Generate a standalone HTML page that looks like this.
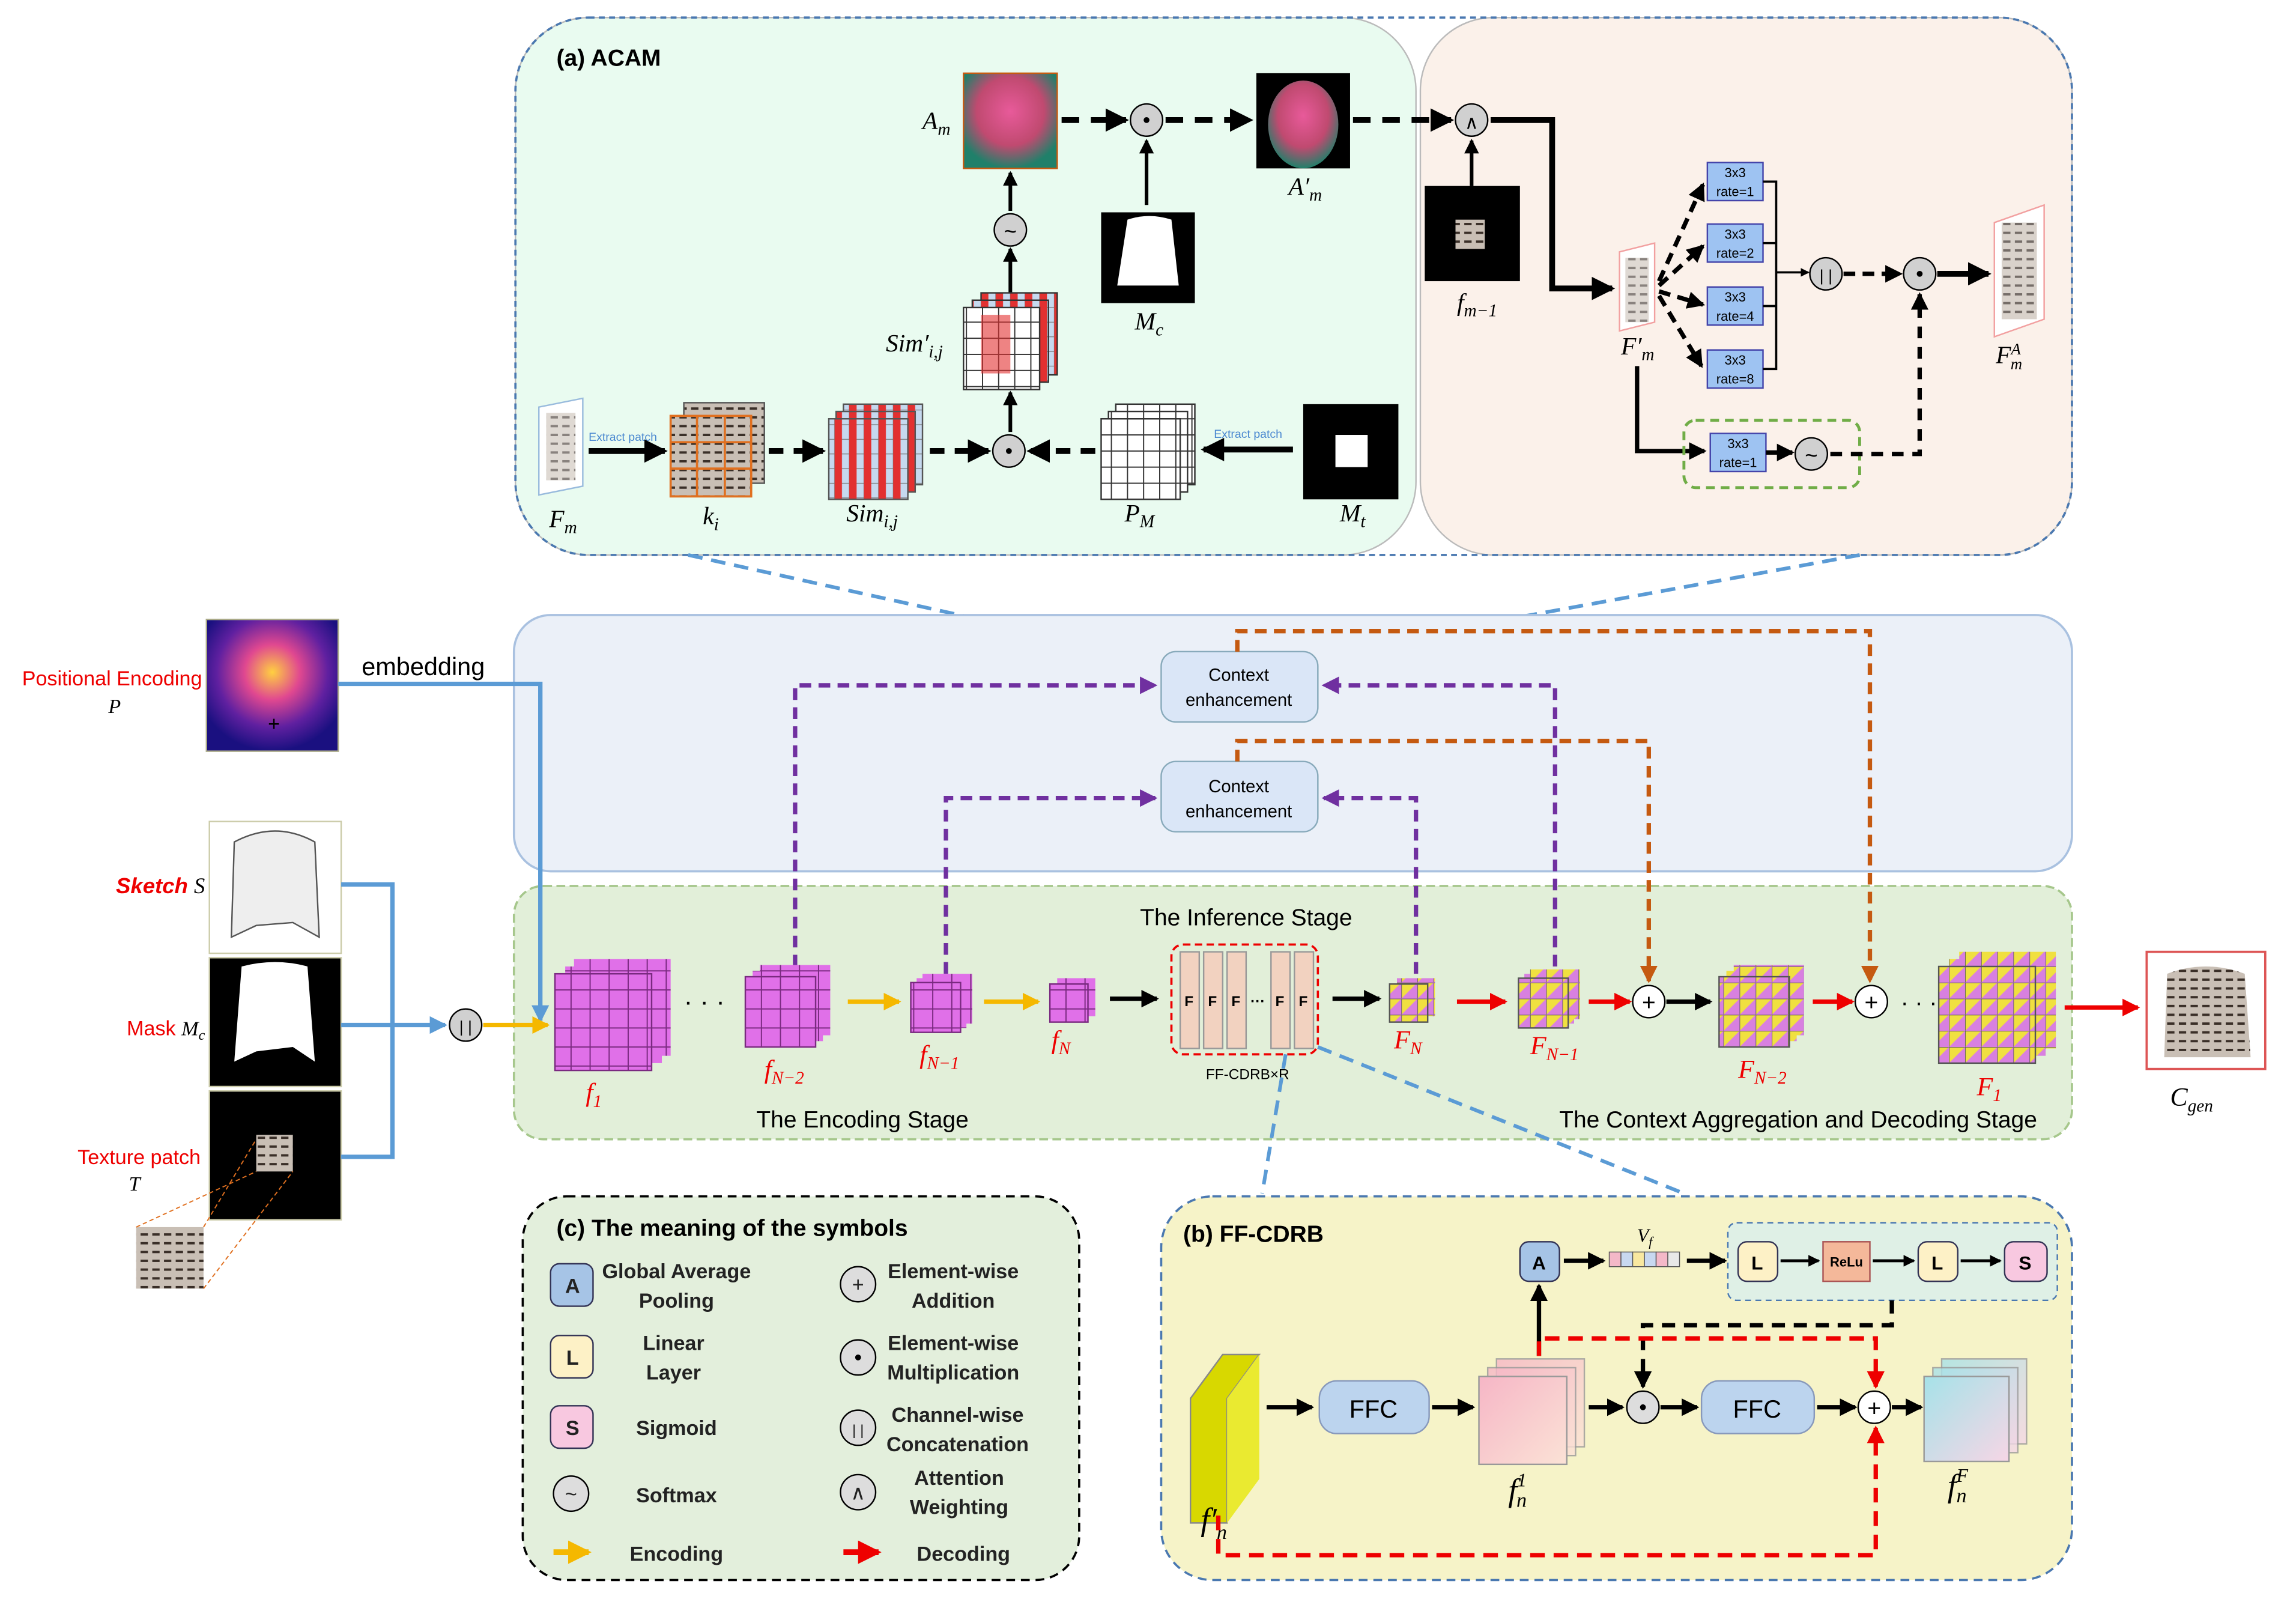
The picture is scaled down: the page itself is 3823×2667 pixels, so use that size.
<!DOCTYPE html>
<html><head><meta charset="utf-8"><style>
html,body{margin:0;padding:0;background:#fff}
svg{display:block}
text{font-family:"Liberation Sans",sans-serif}
.it{font-family:"Liberation Serif",serif;font-style:italic}
</style></head><body>
<svg width="3823" height="2667" viewBox="0 0 1568 1094" preserveAspectRatio="none" xmlns="http://www.w3.org/2000/svg">
<defs>
<marker id="ak" markerWidth="4" markerHeight="4" refX="3.5" refY="2" orient="auto" markerUnits="strokeWidth"><path d="M0,0L4,2L0,4z" fill="#000"/></marker>
<marker id="ar" markerWidth="4" markerHeight="4" refX="3.5" refY="2" orient="auto" markerUnits="strokeWidth"><path d="M0,0L4,2L0,4z" fill="#e00"/></marker>
<marker id="ay" markerWidth="4" markerHeight="4" refX="3.5" refY="2" orient="auto" markerUnits="strokeWidth"><path d="M0,0L4,2L0,4z" fill="#f5b800"/></marker>
<marker id="ap" markerWidth="4" markerHeight="4" refX="3.5" refY="2" orient="auto" markerUnits="strokeWidth"><path d="M0,0L4,2L0,4z" fill="#7030a0"/></marker>
<marker id="ao" markerWidth="4" markerHeight="4" refX="3.5" refY="2" orient="auto" markerUnits="strokeWidth"><path d="M0,0L4,2L0,4z" fill="#c55a11"/></marker>
<marker id="ab" markerWidth="4" markerHeight="4" refX="3.5" refY="2" orient="auto" markerUnits="strokeWidth"><path d="M0,0L4,2L0,4z" fill="#5b9bd5"/></marker>
<pattern id="gp" width="13" height="13" patternUnits="userSpaceOnUse"><rect width="13" height="13" fill="#e070e8" stroke="#7a2a80" stroke-width="0.8"/></pattern>
<pattern id="gy" width="11" height="11" patternUnits="userSpaceOnUse"><rect width="11" height="11" fill="#f0e040" stroke="#555" stroke-width="0.7"/><path d="M0,11L11,0V11z" fill="#d880e0"/></pattern>
<pattern id="gw" width="11" height="11" patternUnits="userSpaceOnUse"><rect width="11" height="11" fill="#fff" stroke="#333" stroke-width="0.8"/></pattern>
<pattern id="gs" width="10" height="10" patternUnits="userSpaceOnUse"><rect width="10" height="10" fill="#c6d9ef" stroke="#777" stroke-width="0.5"/><rect width="5" height="10" fill="#e23030"/></pattern>
<pattern id="tx" width="8" height="6" patternUnits="userSpaceOnUse"><rect width="8" height="6" fill="#c9bfb5"/><path d="M0,3h5" stroke="#3a2f28" stroke-width="1.6"/></pattern>
<radialGradient id="pe" cx="0.5" cy="0.4" r="0.6"><stop offset="0" stop-color="#ffd040"/><stop offset="0.35" stop-color="#e04890"/><stop offset="0.7" stop-color="#6020a0"/><stop offset="1" stop-color="#1a1080"/></radialGradient>
<radialGradient id="am" cx="0.5" cy="0.4" r="0.6"><stop offset="0" stop-color="#e85a9a"/><stop offset="0.6" stop-color="#c04a70"/><stop offset="1" stop-color="#20806a"/></radialGradient>
<linearGradient id="fn" x1="0" y1="0" x2="1" y2="1"><stop offset="0" stop-color="#f6b6c6"/><stop offset="1" stop-color="#fbe2d6"/></linearGradient>
<linearGradient id="ff" x1="0" y1="0" x2="1" y2="1"><stop offset="0" stop-color="#a6e2e8"/><stop offset="1" stop-color="#f6d6e6"/></linearGradient>
</defs>

<rect x="352" y="12" width="615" height="367" rx="50" fill="#e9fbf0" stroke="#bbb"/>
<rect x="970" y="12" width="445" height="367" rx="50" fill="#fbf1ea" stroke="#bbb"/>
<rect x="352" y="12" width="1063" height="367" rx="50" fill="none" stroke="#4a78b0" stroke-width="1.5" stroke-dasharray="4,3"/>
<text x="380" y="45" font-size="16" font-weight="bold">(a) ACAM</text>

<rect x="658" y="50" width="64" height="65" fill="url(#am)" stroke="#c65a11"/>
<text x="630" y="88" class="it" font-size="17">A<tspan font-size="12" dy="4">m</tspan></text>
<line x1="725" y1="82" x2="769" y2="82" stroke="#000" stroke-width="4" stroke-dasharray="12,8" marker-end="url(#ak)"/>
<circle cx="783" cy="82" r="11" fill="#d0d0d0" stroke="#000"/><circle cx="783" cy="82" r="2" fill="#000"/>
<line x1="796" y1="82" x2="854" y2="82" stroke="#000" stroke-width="4" stroke-dasharray="12,8" marker-end="url(#ak)"/>
<rect x="858" y="50" width="64" height="65" fill="#000"/><ellipse cx="890" cy="85" rx="24" ry="30" fill="url(#am)"/>
<text x="880" y="133" class="it" font-size="17">A′<tspan font-size="12" dy="4">m</tspan></text>
<line x1="924" y1="82" x2="991" y2="82" stroke="#000" stroke-width="4" stroke-dasharray="12,8" marker-end="url(#ak)"/>
<circle cx="1005" cy="82" r="11" fill="#d0d0d0" stroke="#000"/><text x="1005" y="88" font-size="13" text-anchor="middle">∧</text>
<rect x="752" y="145" width="64" height="62" fill="#000"/><path d="M770,150 Q785,145 800,150 L805,195 L763,195z" fill="#fff"/>
<line x1="783" y1="140" x2="783" y2="96" stroke="#000" stroke-width="2.5" marker-end="url(#ak)"/>
<text x="775" y="225" class="it" font-size="17">M<tspan font-size="12" dy="4">c</tspan></text>
<circle cx="690" cy="157" r="11" fill="#d0d0d0" stroke="#000"/><text x="690" y="163" font-size="15" text-anchor="middle">~</text>
<line x1="690" y1="144" x2="690" y2="118" stroke="#000" stroke-width="2.5" marker-end="url(#ak)"/>
<line x1="690" y1="200" x2="690" y2="170" stroke="#000" stroke-width="2.5" marker-end="url(#ak)"/>
<rect x="670" y="200" width="52" height="56" fill="url(#gs)" stroke="#333"/>
<rect x="664" y="205" width="52" height="56" fill="url(#gs)" stroke="#333"/>
<rect x="658" y="210" width="52" height="56" fill="url(#gw)" stroke="#333"/>
<rect x="670" y="215" width="20" height="40" fill="#e23030" opacity="0.6"/>
<text x="605" y="240" class="it" font-size="17">Sim′<tspan font-size="12" dy="4">i,j</tspan></text>
<line x1="690" y1="295" x2="690" y2="268" stroke="#000" stroke-width="2.5" marker-end="url(#ak)"/>
<path d="M368,278 L398,272 L398,332 L368,338z" fill="#fff" stroke="#9bd"/><rect x="373" y="282" width="20" height="46" fill="url(#tx)" opacity="0.6"/>
<text x="375" y="360" class="it" font-size="17">F<tspan font-size="12" dy="4">m</tspan></text>
<text x="402" y="301" font-size="8" fill="#4a88d0">Extract patch</text>
<line x1="402" y1="308" x2="454" y2="308" stroke="#000" stroke-width="4" marker-end="url(#ak)"/>
<rect x="467" y="275" width="55" height="55" fill="url(#tx)" stroke="#555"/>
<rect x="458" y="284" width="55" height="55" fill="url(#tx)" stroke="#e07020" stroke-width="1.5"/>
<path d="M476,284V339M495,284V339M458,302H513M458,320H513" stroke="#e07020" stroke-width="1.5"/>
<text x="480" y="358" class="it" font-size="17">k<tspan font-size="12" dy="4">i</tspan></text>
<line x1="525" y1="308" x2="562" y2="308" stroke="#000" stroke-width="4" stroke-dasharray="10,7" marker-end="url(#ak)"/>
<rect x="576" y="276" width="54" height="55" fill="url(#gs)" stroke="#555"/>
<rect x="571" y="281" width="54" height="55" fill="url(#gs)" stroke="#555"/>
<rect x="566" y="286" width="54" height="55" fill="url(#gs)" stroke="#555"/>
<text x="578" y="356" class="it" font-size="17">Sim<tspan font-size="12" dy="4">i,j</tspan></text>
<line x1="635" y1="308" x2="675" y2="308" stroke="#000" stroke-width="4" stroke-dasharray="10,7" marker-end="url(#ak)"/>
<circle cx="689" cy="308" r="11" fill="#d0d0d0" stroke="#000"/><circle cx="689" cy="308" r="2" fill="#000"/>
<line x1="748" y1="308" x2="703" y2="308" stroke="#000" stroke-width="4" stroke-dasharray="10,7" marker-end="url(#ak)"/>
<rect x="762" y="276" width="54" height="55" fill="url(#gw)" stroke="#333"/>
<rect x="757" y="281" width="54" height="55" fill="url(#gw)" stroke="#333"/>
<rect x="752" y="286" width="54" height="55" fill="url(#gw)" stroke="#333"/>
<text x="768" y="356" class="it" font-size="17">P<tspan font-size="12" dy="4">M</tspan></text>
<text x="829" y="299" font-size="8" fill="#4a88d0">Extract patch</text>
<line x1="883" y1="307" x2="822" y2="307" stroke="#000" stroke-width="4" marker-end="url(#ak)"/>
<rect x="890" y="276" width="65" height="65" fill="#000"/><rect x="912" y="297" width="22" height="22" fill="#fff"/>
<text x="915" y="356" class="it" font-size="17">M<tspan font-size="12" dy="4">t</tspan></text>

<line x1="1005" y1="127" x2="1005" y2="96" stroke="#000" stroke-width="2.5" marker-end="url(#ak)"/>
<rect x="973" y="127" width="65" height="65" fill="#000"/><rect x="994" y="150" width="20" height="20" fill="url(#tx)"/>
<text x="995" y="212" class="it" font-size="17">f<tspan font-size="12" dy="4">m−1</tspan></text>
<polyline points="1018,82 1060,82 1060,197 1101,197" fill="none" stroke="#000" stroke-width="4" marker-end="url(#ak)"/>
<path d="M1106,172 L1130,166 L1130,220 L1106,226z" fill="#fff" stroke="#f2a0a0"/><rect x="1110" y="176" width="16" height="44" fill="url(#tx)" opacity="0.6"/>
<text x="1107" y="242" class="it" font-size="17">F′<tspan font-size="12" dy="4">m</tspan></text>
<g stroke="#000" stroke-width="3" stroke-dasharray="8,5" fill="none">
<line x1="1133" y1="192" x2="1163" y2="126" marker-end="url(#ak)"/>
<line x1="1133" y1="195" x2="1163" y2="168" marker-end="url(#ak)"/>
<line x1="1133" y1="199" x2="1163" y2="208" marker-end="url(#ak)"/>
<line x1="1133" y1="202" x2="1162" y2="250" marker-end="url(#ak)"/>
</g>
<g font-size="9" text-anchor="middle">
<rect x="1166" y="111" width="38" height="26" fill="#9ec3f2" stroke="#44a"/><text x="1185" y="121">3x3</text><text x="1185" y="134">rate=1</text>
<rect x="1166" y="153" width="38" height="26" fill="#9ec3f2" stroke="#44a"/><text x="1185" y="163">3x3</text><text x="1185" y="176">rate=2</text>
<rect x="1166" y="196" width="38" height="26" fill="#9ec3f2" stroke="#44a"/><text x="1185" y="206">3x3</text><text x="1185" y="219">rate=4</text>
<rect x="1166" y="239" width="38" height="26" fill="#9ec3f2" stroke="#44a"/><text x="1185" y="249">3x3</text><text x="1185" y="262">rate=8</text>
</g>
<path d="M1204,124H1213V252H1204M1204,166H1213M1204,209H1213" stroke="#000" stroke-width="1.5" fill="none"/>
<line x1="1213" y1="186" x2="1235" y2="186" stroke="#000" stroke-width="1.5" marker-end="url(#ak)"/>
<circle cx="1247" cy="187" r="11" fill="#d0d0d0" stroke="#000"/><text x="1247" y="192" font-size="11" text-anchor="middle">| |</text>
<line x1="1259" y1="187" x2="1298" y2="187" stroke="#000" stroke-width="3" stroke-dasharray="8,5" marker-end="url(#ak)"/>
<circle cx="1311" cy="187" r="11" fill="#d0d0d0" stroke="#000"/><circle cx="1311" cy="187" r="2" fill="#000"/>
<line x1="1323" y1="187" x2="1358" y2="187" stroke="#000" stroke-width="4" marker-end="url(#ak)"/>
<path d="M1362,152 L1396,140 L1396,218 L1362,230z" fill="#fff" stroke="#f2a0a0"/><rect x="1367" y="152" width="24" height="66" fill="url(#tx)" opacity="0.7"/>
<text x="1363" y="248" class="it" font-size="17">F<tspan font-size="11" dy="-6">A</tspan><tspan font-size="11" dx="-7" dy="10">m</tspan></text>
<polyline points="1118,250 1118,308 1164,308" fill="none" stroke="#000" stroke-width="3" marker-end="url(#ak)"/>
<rect x="1150" y="287" width="120" height="46" rx="8" fill="none" stroke="#70ad47" stroke-width="2" stroke-dasharray="6,4"/>
<rect x="1168" y="296" width="38" height="26" fill="#9ec3f2" stroke="#44a"/><text x="1187" y="306" font-size="9" text-anchor="middle">3x3</text><text x="1187" y="319" font-size="9" text-anchor="middle">rate=1</text>
<line x1="1206" y1="309" x2="1224" y2="309" stroke="#000" stroke-width="3" marker-end="url(#ak)"/>
<circle cx="1237" cy="310" r="11" fill="#d0d0d0" stroke="#000"/><text x="1237" y="316" font-size="15" text-anchor="middle">~</text>
<polyline points="1250,310 1311,310 1311,201" fill="none" stroke="#000" stroke-width="3" stroke-dasharray="8,6" marker-end="url(#ak)"/>

<line x1="470" y1="379" x2="800" y2="452" stroke="#5b9bd5" stroke-width="2.5" stroke-dasharray="10,6"/>
<line x1="1270" y1="379" x2="892" y2="448" stroke="#5b9bd5" stroke-width="2.5" stroke-dasharray="10,6"/>

<rect x="351" y="420" width="1064" height="175" rx="25" fill="#ebf0f8" stroke="#a9c1e0" stroke-width="1.5"/>
<rect x="351" y="605" width="1064" height="173" rx="20" fill="#e2efd9" stroke="#a6c78c" stroke-width="1.5" stroke-dasharray="6,3"/>
<text x="851" y="632" font-size="16" text-anchor="middle">The Inference Stage</text>
<text x="589" y="770" font-size="16" text-anchor="middle">The Encoding Stage</text>
<text x="1228" y="770" font-size="16" text-anchor="middle">The Context Aggregation and Decoding Stage</text>

<rect x="793" y="445" width="107" height="48" rx="10" fill="#dae6f7" stroke="#8ab"/>
<text x="846" y="465" font-size="12" text-anchor="middle">Context</text><text x="846" y="482" font-size="12" text-anchor="middle">enhancement</text>
<rect x="793" y="520" width="107" height="48" rx="10" fill="#dae6f7" stroke="#8ab"/>
<text x="846" y="541" font-size="12" text-anchor="middle">Context</text><text x="846" y="558" font-size="12" text-anchor="middle">enhancement</text>
<g fill="none" stroke="#7030a0" stroke-width="3" stroke-dasharray="8,5">
<polyline points="543,660 543,468 789,468" marker-end="url(#ap)"/>
<polyline points="1062,660 1062,468 904,468" marker-end="url(#ap)"/>
<polyline points="646,665 646,545 789,545" marker-end="url(#ap)"/>
<polyline points="967,665 967,545 904,545" marker-end="url(#ap)"/>
</g>
<g fill="none" stroke="#c55a11" stroke-width="3" stroke-dasharray="8,5">
<polyline points="845,445 845,431 1277,431 1277,670" marker-end="url(#ao)"/>
<polyline points="845,520 845,506 1126,506 1126,670" marker-end="url(#ao)"/>
</g>

<text x="138" y="468" font-size="14" fill="#e00" text-anchor="end">Positional Encoding</text>
<text x="74" y="487" class="it" font-size="14">P</text>
<rect x="141" y="423" width="90" height="90" fill="url(#pe)" stroke="#aa8"/>
<text x="183" y="499" font-size="14" fill="#000">+</text>
<text x="247" y="461" font-size="17">embedding</text>
<polyline points="231,467 369,467 369,697" fill="none" stroke="#5b9bd5" stroke-width="3" marker-end="url(#ab)"/>
<rect x="143" y="561" width="90" height="90" fill="#fff" stroke="#cca"/>
<path d="M160,575 Q188,560 215,575 L218,640 L200,630 L175,632 L158,640z" fill="#eee" stroke="#555"/>
<text x="140" y="610" font-size="15" text-anchor="end"><tspan fill="#e00" font-weight="bold" font-style="italic">Sketch</tspan> <tspan class="it">S</tspan></text>
<rect x="143" y="654" width="90" height="88" fill="#000" stroke="#cca"/>
<path d="M165,660 Q188,654 210,660 L215,725 L200,715 L175,718 L160,725z" fill="#fff"/>
<text x="140" y="707" font-size="14" fill="#e00" text-anchor="end">Mask <tspan class="it" fill="#000">M<tspan font-size="10" dy="3">c</tspan></tspan></text>
<rect x="143" y="745" width="90" height="88" fill="#000" stroke="#cca"/><rect x="175" y="775" width="25" height="25" fill="url(#tx)"/>
<text x="137" y="795" font-size="14" fill="#e00" text-anchor="end">Texture patch</text>
<text x="88" y="813" class="it" font-size="14">T</text>
<rect x="93" y="838" width="46" height="42" fill="url(#tx)"/>
<path d="M139,838L175,778M139,880L200,800M93,838L175,800" stroke="#e07020" stroke-dasharray="3,2" stroke-width="0.8"/>
<polyline points="233,604 268,604 268,790 233,790" fill="none" stroke="#5b9bd5" stroke-width="3"/>
<line x1="233" y1="700" x2="304" y2="700" stroke="#5b9bd5" stroke-width="3" marker-end="url(#ab)"/>
<circle cx="318" cy="700" r="11" fill="#d0d0d0" stroke="#000"/><text x="318" y="705" font-size="11" text-anchor="middle">| |</text>
<line x1="330" y1="700" x2="374" y2="700" stroke="#f5b800" stroke-width="3" marker-end="url(#ay)"/>

<rect x="392" y="655" width="66" height="66" fill="url(#gp)"/><rect x="386" y="660" width="66" height="66" fill="url(#gp)"/><rect x="379" y="665" width="66" height="66" fill="url(#gp)" stroke="#7a2a80"/>
<text x="400" y="752" class="it" font-size="18" fill="#e00">f<tspan font-size="12" dy="4">1</tspan></text>
<text x="467" y="690" font-size="18">· · ·</text>
<rect x="519" y="659" width="48" height="48" fill="url(#gp)"/><rect x="514" y="663" width="48" height="48" fill="url(#gp)"/><rect x="509" y="667" width="48" height="48" fill="url(#gp)" stroke="#7a2a80"/>
<text x="522" y="736" class="it" font-size="18" fill="#e00">f<tspan font-size="12" dy="4">N−2</tspan></text>
<line x1="579" y1="684" x2="614" y2="684" stroke="#f5b800" stroke-width="3" marker-end="url(#ay)"/>
<rect x="630" y="665" width="34" height="34" fill="url(#gp)"/><rect x="626" y="668" width="34" height="34" fill="url(#gp)"/><rect x="622" y="671" width="34" height="34" fill="url(#gp)" stroke="#7a2a80"/>
<text x="628" y="726" class="it" font-size="18" fill="#e00">f<tspan font-size="12" dy="4">N−1</tspan></text>
<line x1="672" y1="684" x2="709" y2="684" stroke="#f5b800" stroke-width="3" marker-end="url(#ay)"/>
<rect x="722" y="668" width="26" height="26" fill="url(#gp)"/><rect x="717" y="672" width="26" height="26" fill="url(#gp)" stroke="#7a2a80"/>
<text x="718" y="716" class="it" font-size="18" fill="#e00">f<tspan font-size="12" dy="4">N</tspan></text>
<line x1="758" y1="682" x2="790" y2="682" stroke="#000" stroke-width="3" marker-end="url(#ak)"/>
<rect x="800" y="645" width="100" height="75" rx="8" fill="none" stroke="#e00" stroke-width="1.5" stroke-dasharray="5,3"/>
<g font-size="10" text-anchor="middle" font-weight="bold">
<rect x="806" y="650" width="13" height="66" fill="#f2d2c0" stroke="#999"/><text x="812" y="687">F</text>
<rect x="822" y="650" width="13" height="66" fill="#f2d2c0" stroke="#999"/><text x="828" y="687">F</text>
<rect x="838" y="650" width="13" height="66" fill="#f2d2c0" stroke="#999"/><text x="844" y="687">F</text>
<text x="859" y="687">···</text>
<rect x="868" y="650" width="13" height="66" fill="#f2d2c0" stroke="#999"/><text x="874" y="687">F</text>
<rect x="884" y="650" width="13" height="66" fill="#f2d2c0" stroke="#999"/><text x="890" y="687">F</text>
</g>
<text x="852" y="737" font-size="10" text-anchor="middle">FF-CDRB×R</text>
<line x1="910" y1="682" x2="942" y2="682" stroke="#000" stroke-width="3" marker-end="url(#ak)"/>
<rect x="954" y="668" width="26" height="26" fill="url(#gy)"/><rect x="949" y="672" width="26" height="26" fill="url(#gy)" stroke="#555"/>
<text x="952" y="716" class="it" font-size="18" fill="#e00">F<tspan font-size="12" dy="4">N</tspan></text>
<line x1="995" y1="684" x2="1028" y2="684" stroke="#e00" stroke-width="3" marker-end="url(#ar)"/>
<rect x="1045" y="662" width="34" height="34" fill="url(#gy)"/><rect x="1041" y="665" width="34" height="34" fill="url(#gy)"/><rect x="1037" y="668" width="34" height="34" fill="url(#gy)" stroke="#555"/>
<text x="1045" y="720" class="it" font-size="18" fill="#e00">F<tspan font-size="12" dy="4">N−1</tspan></text>
<line x1="1085" y1="684" x2="1113" y2="684" stroke="#e00" stroke-width="3" marker-end="url(#ar)"/>
<circle cx="1126" cy="684" r="11" fill="#fff" stroke="#000"/><text x="1126" y="690" font-size="16" text-anchor="middle">+</text>
<line x1="1138" y1="684" x2="1168" y2="684" stroke="#000" stroke-width="3" marker-end="url(#ak)"/>
<rect x="1184" y="659" width="48" height="48" fill="url(#gy)"/><rect x="1179" y="663" width="48" height="48" fill="url(#gy)"/><rect x="1174" y="667" width="48" height="48" fill="url(#gy)" stroke="#555"/>
<text x="1187" y="736" class="it" font-size="18" fill="#e00">F<tspan font-size="12" dy="4">N−2</tspan></text>
<line x1="1238" y1="684" x2="1265" y2="684" stroke="#e00" stroke-width="3" marker-end="url(#ar)"/>
<circle cx="1278" cy="684" r="11" fill="#fff" stroke="#000"/><text x="1278" y="690" font-size="16" text-anchor="middle">+</text>
<text x="1298" y="690" font-size="16">· · ·</text>
<rect x="1338" y="650" width="66" height="66" fill="url(#gy)"/><rect x="1331" y="655" width="66" height="66" fill="url(#gy)"/><rect x="1324" y="660" width="66" height="66" fill="url(#gy)" stroke="#555"/>
<text x="1350" y="748" class="it" font-size="18" fill="#e00">F<tspan font-size="12" dy="4">1</tspan></text>
<line x1="1410" y1="688" x2="1460" y2="688" stroke="#e00" stroke-width="3" marker-end="url(#ar)"/>
<rect x="1466" y="650" width="81" height="80" fill="#fff" stroke="#d55" stroke-width="1.5"/>
<path d="M1480,665 Q1506,655 1533,665 L1537,722 L1478,722z" fill="url(#tx)"/>
<text x="1482" y="755" class="it" font-size="18">C<tspan font-size="12" dy="4">gen</tspan></text>

<line x1="878" y1="720" x2="862" y2="815" stroke="#5b9bd5" stroke-width="2.5" stroke-dasharray="10,6"/>
<line x1="900" y1="715" x2="1150" y2="815" stroke="#5b9bd5" stroke-width="2.5" stroke-dasharray="10,6"/>

<rect x="357" y="817" width="380" height="262" rx="30" fill="#e3efdc" stroke="#000" stroke-width="1.5" stroke-dasharray="6,4"/>
<text x="380" y="844" font-size="16" font-weight="bold">(c) The meaning of the symbols</text>
<g font-size="14" text-anchor="middle" font-weight="bold" fill="#222">
<rect x="376" y="863" width="29" height="29" rx="6" fill="#a6c4e6" stroke="#335"/><text x="391" y="883">A</text>
<text x="462" y="873">Global Average</text><text x="462" y="893">Pooling</text>
<rect x="376" y="912" width="29" height="29" rx="6" fill="#fdf1c6" stroke="#335"/><text x="391" y="932">L</text>
<text x="460" y="922">Linear</text><text x="460" y="942">Layer</text>
<rect x="376" y="960" width="29" height="29" rx="6" fill="#f8c8e0" stroke="#335"/><text x="391" y="980">S</text>
<text x="462" y="980">Sigmoid</text>
<circle cx="390" cy="1020" r="12" fill="#ddd" stroke="#000"/><text x="390" y="1025" font-weight="normal">~</text>
<text x="462" y="1026">Softmax</text>
<text x="462" y="1066">Encoding</text>
<circle cx="586" cy="877" r="12" fill="#ddd" stroke="#000"/><text x="586" y="882" font-weight="normal">+</text>
<text x="651" y="873">Element-wise</text><text x="651" y="893">Addition</text>
<circle cx="586" cy="927" r="12" fill="#ddd" stroke="#000"/><circle cx="586" cy="927" r="2" fill="#000"/>
<text x="651" y="922">Element-wise</text><text x="651" y="942">Multiplication</text>
<circle cx="586" cy="975" r="12" fill="#ddd" stroke="#000"/><text x="586" y="980" font-size="10" font-weight="normal">| |</text>
<text x="654" y="971">Channel-wise</text><text x="654" y="991">Concatenation</text>
<circle cx="586" cy="1019" r="12" fill="#ddd" stroke="#000"/><text x="586" y="1024" font-weight="normal">∧</text>
<text x="655" y="1014">Attention</text><text x="655" y="1034">Weighting</text>
<text x="658" y="1066">Decoding</text>
</g>
<line x1="378" y1="1060" x2="402" y2="1060" stroke="#f5b800" stroke-width="4" marker-end="url(#ay)"/>
<line x1="576" y1="1060" x2="600" y2="1060" stroke="#e00" stroke-width="4" marker-end="url(#ar)"/>

<rect x="793" y="817" width="622" height="262" rx="35" fill="#f6f3c8" stroke="#4a78b0" stroke-width="1.5" stroke-dasharray="6,4"/>
<text x="808" y="848" font-size="16" font-weight="bold">(b) FF-CDRB</text>
<path d="M813,955 L835,925 L860,925 L838,955 L838,1040 L813,1040z" fill="#d8d800" stroke="#888"/>
<path d="M838,955 L860,925 L860,1010 L838,1040z" fill="#eaea30"/>
<text x="820" y="1045" class="it" font-size="22">f′<tspan font-size="14" dy="6">n</tspan></text>
<line x1="865" y1="961" x2="896" y2="961" stroke="#000" stroke-width="3" marker-end="url(#ak)"/>
<rect x="901" y="943" width="75" height="36" rx="12" fill="#bcd4ee" stroke="#89b"/><text x="938" y="968" font-size="17" text-anchor="middle">FFC</text>
<line x1="978" y1="961" x2="1006" y2="961" stroke="#000" stroke-width="3" marker-end="url(#ak)"/>
<rect x="1022" y="928" width="60" height="60" fill="url(#fn)" stroke="#999" opacity="0.8"/><rect x="1016" y="934" width="60" height="60" fill="url(#fn)" stroke="#999" opacity="0.8"/><rect x="1010" y="940" width="60" height="60" fill="url(#fn)" stroke="#999"/>
<text x="1030" y="1025" class="it" font-size="22">f<tspan font-size="13" dy="-10">1</tspan><tspan font-size="14" dx="-7" dy="14">n</tspan></text>
<line x1="1051" y1="926" x2="1051" y2="878" stroke="#000" stroke-width="3" marker-end="url(#ak)"/>
<rect x="1038" y="848" width="27" height="27" rx="6" fill="#a6c4e6" stroke="#335"/><text x="1051" y="867" font-size="13" font-weight="bold" text-anchor="middle">A</text>
<line x1="1068" y1="861" x2="1095" y2="861" stroke="#000" stroke-width="3" marker-end="url(#ak)"/>
<g stroke="#555" stroke-width="0.6"><rect x="1099" y="855" width="8" height="10" fill="#f4b8c8"/><rect x="1107" y="855" width="8" height="10" fill="#c8d8f0"/><rect x="1115" y="855" width="8" height="10" fill="#f8e8a0"/><rect x="1123" y="855" width="8" height="10" fill="#c8d8f0"/><rect x="1131" y="855" width="8" height="10" fill="#f4b8c8"/><rect x="1139" y="855" width="8" height="10" fill="#e8e8e8"/></g>
<text x="1118" y="848" class="it" font-size="13">V<tspan font-size="9" dy="3">f</tspan></text>
<line x1="1152" y1="861" x2="1178" y2="861" stroke="#000" stroke-width="3" marker-end="url(#ak)"/>
<rect x="1180" y="835" width="225" height="53" rx="6" fill="#dff0e6" stroke="#4a78b0" stroke-dasharray="4,3"/>
<rect x="1187" y="848" width="27" height="27" rx="6" fill="#fdf1c6" stroke="#335"/><text x="1200" y="867" font-size="13" font-weight="bold" text-anchor="middle">L</text>
<line x1="1216" y1="861" x2="1242" y2="861" stroke="#000" stroke-width="2" marker-end="url(#ak)"/>
<rect x="1245" y="848" width="32" height="27" fill="#f4b89a" stroke="#a55"/><text x="1261" y="865" font-size="9" font-weight="bold" text-anchor="middle">ReLu</text>
<line x1="1279" y1="861" x2="1307" y2="861" stroke="#000" stroke-width="2" marker-end="url(#ak)"/>
<rect x="1310" y="848" width="27" height="27" rx="6" fill="#fdf1c6" stroke="#335"/><text x="1323" y="867" font-size="13" font-weight="bold" text-anchor="middle">L</text>
<line x1="1339" y1="861" x2="1366" y2="861" stroke="#000" stroke-width="2" marker-end="url(#ak)"/>
<rect x="1369" y="848" width="29" height="27" rx="6" fill="#f8c8e0" stroke="#335"/><text x="1383" y="867" font-size="13" font-weight="bold" text-anchor="middle">S</text>
<polyline points="1292,888 1292,905 1122,905 1122,947" fill="none" stroke="#000" stroke-width="3" stroke-dasharray="9,6" marker-end="url(#ak)"/>
<line x1="1085" y1="961" x2="1108" y2="961" stroke="#000" stroke-width="3" marker-end="url(#ak)"/>
<circle cx="1122" cy="961" r="11" fill="#ddd" stroke="#000"/><circle cx="1122" cy="961" r="2" fill="#000"/>
<line x1="1134" y1="961" x2="1159" y2="961" stroke="#000" stroke-width="3" marker-end="url(#ak)"/>
<rect x="1162" y="943" width="77" height="36" rx="12" fill="#bcd4ee" stroke="#89b"/><text x="1200" y="968" font-size="17" text-anchor="middle">FFC</text>
<line x1="1241" y1="961" x2="1267" y2="961" stroke="#000" stroke-width="3" marker-end="url(#ak)"/>
<circle cx="1280" cy="961" r="11" fill="#fff" stroke="#000"/><text x="1280" y="967" font-size="16" text-anchor="middle">+</text>
<line x1="1292" y1="961" x2="1312" y2="961" stroke="#000" stroke-width="3" marker-end="url(#ak)"/>
<polyline points="1051,926 1051,914 1281,914 1281,947" fill="none" stroke="#e00" stroke-width="3" stroke-dasharray="10,6" marker-end="url(#ar)"/>
<polyline points="832,1035 832,1062 1281,1062 1281,975" fill="none" stroke="#e00" stroke-width="3" stroke-dasharray="10,6" marker-end="url(#ar)"/>
<rect x="1326" y="928" width="58" height="58" fill="url(#ff)" stroke="#999" opacity="0.8"/><rect x="1320" y="934" width="58" height="58" fill="url(#ff)" stroke="#999" opacity="0.8"/><rect x="1314" y="940" width="58" height="58" fill="url(#ff)" stroke="#999"/>
<text x="1330" y="1022" class="it" font-size="22">f<tspan font-size="13" dy="-10">F</tspan><tspan font-size="14" dx="-8" dy="14">n</tspan></text>
</svg>
</body></html>
